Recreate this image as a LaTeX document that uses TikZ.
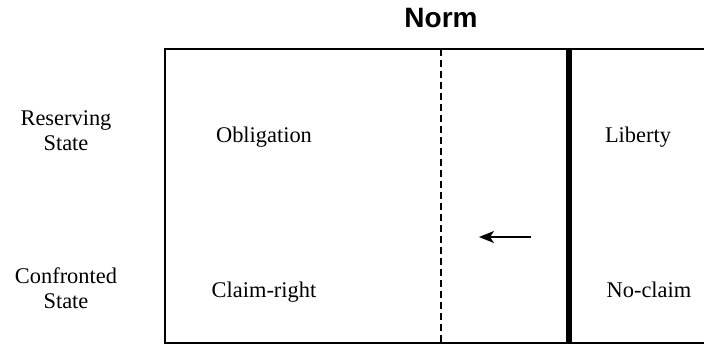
\documentclass[tikz,border=0pt]{standalone}
\usepackage{fontspec}
\setmainfont{Liberation Serif}
\newfontfamily\headfont{Liberation Sans}
\usetikzlibrary{arrows.meta}

\begin{document}
\begin{tikzpicture}[x=1pt,y=-1pt,
    cell/.style={anchor=base,inner sep=0pt,font=\fontsize{22.4}{25}\selectfont},
    party/.style={cell,align=center},
    frame/.style={line width=2pt},
    bar/.style={line width=6pt},
    moveto/.style={line width=1.8pt,-{Stealth[length=15pt,width=12pt,inset=4pt]}}]
  \useasboundingbox (0,0) rectangle (704,345);
  \node[font=\headfont\bfseries\fontsize{28}{32}\selectfont] (norm) at (441,18) {Norm};
  % frame, open to the right
  \coordinate (ftr) at (704,49);
  \coordinate (ftl) at (165,49);
  \coordinate (fbl) at (165,343);
  \coordinate (fbr) at (704,343);
  \draw[frame] (ftr) -- (ftl) -- (fbl) -- (fbr);
  \coordinate (dtop) at (441,49);
  \coordinate (dbot) at (441,343);
  \draw[line width=1.6pt,dash pattern=on 7pt off 4pt] (dtop) -- (dbot);
  \coordinate (btop) at (569,49);
  \coordinate (bbot) at (569,344);
  \draw[bar] (btop) -- (bbot);
  % parties (base = last line)
  \node[party] (res) at (66,150) {Reserving\\State};
  \node[party] (con) at (66,308) {Confronted\\State};
  % positions
  \node[cell] (obl) at (264,142) {Obligation};
  \node[cell] (lib) at (638,142) {Liberty};
  \node[cell] (clr) at (264,297) {Claim-right};
  \node[cell] (ncl) at (649,297) {No-claim};
  \coordinate (afrom) at (531,237);
  \coordinate (ato) at (479,237);
  \draw[moveto] (afrom) -- (ato);
\end{tikzpicture}
\end{document}
